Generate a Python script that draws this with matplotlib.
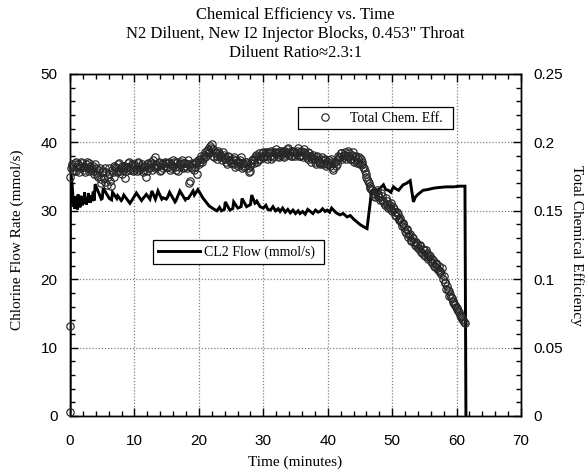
import numpy as np
import matplotlib
matplotlib.use("Agg")
import matplotlib.pyplot as plt
from matplotlib.ticker import MultipleLocator, FixedLocator

# ---- CL2 flow (mmol/s) vs time (min) ----
flow_t = [
    0.00, 0.06, 0.20, 0.35, 0.55, 0.65, 0.75, 0.85, 0.95, 1.05, 1.15, 1.25, 1.35,
    1.45, 1.55, 1.65, 1.75, 1.85, 1.95, 2.05, 2.15, 2.25, 2.35, 2.45, 2.55, 2.65,
    2.75, 2.85, 2.95, 3.05, 3.15, 3.30, 3.45, 3.60, 3.75, 3.90, 4.85, 5.00, 5.15,
    6.10, 6.45, 6.60, 7.25, 7.40, 7.95, 8.10, 8.35, 9.30, 9.45, 10.30, 11.10,
    11.25, 11.85, 12.40, 12.70, 13.25, 13.65, 14.25, 14.45, 14.95, 15.10, 15.45,
    16.30, 16.45, 17.05, 17.90, 18.05, 18.35, 19.10, 19.30, 19.85, 20.60, 21.60,
    22.40, 22.80, 23.20, 23.50, 23.95, 24.10, 24.80, 25.25, 25.40, 26.05, 26.55,
    26.70, 27.40, 28.00, 28.20, 28.70, 28.85, 29.00, 29.50, 30.00, 30.40, 30.70,
    31.10, 31.50, 31.90, 32.30, 32.60, 33.00, 33.40, 33.80, 34.20, 34.60, 35.00,
    35.40, 35.70, 36.10, 36.50, 36.90, 37.30, 37.70, 38.10, 38.50, 38.80, 39.20,
    39.60, 39.90, 40.30, 40.60, 40.90, 41.30, 41.90, 42.40, 43.00, 43.50, 44.00,
    44.50, 45.00, 45.50, 46.10, 46.50, 46.80, 47.20, 47.60, 48.00, 48.65, 49.00,
    49.40, 49.80, 50.20, 50.60, 51.00, 51.70, 52.20, 52.80, 53.30, 53.60, 54.00,
    54.40, 54.80, 55.50, 56.40, 57.20, 58.40, 59.50, 60.50, 61.30, 61.45,
]
flow_v = [
    0.0, 35.4, 35.0, 33.5, 30.6, 31.9, 30.3, 32.1, 30.5, 31.7, 30.2, 32.4, 30.8,
    31.6, 30.5, 32.2, 30.9, 31.9, 30.8, 32.1, 31.0, 32.7, 31.2, 31.9, 30.9, 31.8,
    31.2, 32.6, 31.3, 31.9, 31.2, 32.3, 31.4, 32.8, 31.5, 33.9, 31.7, 31.8, 33.3,
    31.8, 31.6, 32.7, 31.8, 32.2, 31.5, 31.7, 32.3, 31.1, 31.3, 32.6, 31.5,
    31.7, 32.4, 31.7, 32.9, 31.7, 32.9, 31.7, 31.9, 31.7, 31.9, 32.7,
    31.3, 31.5, 32.9, 31.6, 31.8, 31.8, 32.9, 32.3, 33.1, 31.9, 30.7,
    30.2, 30.0, 30.5, 30.0, 30.2, 31.3, 30.1, 30.3, 31.3, 30.4, 30.6,
    31.8, 30.6, 30.9, 32.3, 31.1, 31.2, 31.4, 30.6, 30.4, 30.8, 30.2,
    30.1, 30.6, 30.0, 30.3, 29.9, 30.4, 29.8, 30.2, 29.7, 30.1, 29.6,
    30.0, 29.6, 29.9, 29.5, 30.2, 29.9, 29.6, 30.1, 29.8, 29.9, 30.3,
    29.9, 30.1, 29.8, 30.4, 30.1, 29.7, 29.4, 29.6, 29.1, 29.3, 28.8,
    28.4, 28.0, 27.7, 27.4, 30.5, 32.8, 33.3, 32.8, 33.2, 33.8, 33.1,
    33.0, 32.7, 33.5, 33.2, 33.0, 33.8, 34.0, 34.4, 31.3, 32.0, 32.4,
    32.7, 33.0, 33.1, 33.3, 33.4, 33.5, 33.5, 33.6, 33.6, 0.0,
]

# ---- total chemical efficiency (per mille) ----
eff_start_t = [0.0, 0.0, 0.0]
eff_start = [3, 66, 175]
# samples on the quarter minute
eff_t_a = np.round(np.arange(0.25, 61.26, 0.25), 3)
eff_pm_a = [
    183, 180, 185, 179, 184, 181, 186, 182, 178, 184, 181, 185, 180, 183, 177, 181, 176, 180, 170, 178,
    174, 181, 169, 177, 172, 180, 175, 182, 178, 184, 179, 183, 180, 174, 182, 185, 180, 183, 179, 184,
    181, 185, 180, 183, 178, 182, 175, 184, 181, 186, 180, 183, 189, 182, 185, 179, 184, 181, 186, 182,
    185, 180, 184, 187, 182, 185, 179, 184, 186, 181, 185, 183, 187, 170, 182, 185, 180, 186, 177, 184,
    188, 186, 191, 189, 194, 192, 197, 199, 195, 192, 190, 194, 191, 189, 193, 188, 186, 190, 187, 185,
    188, 184, 187, 183, 186, 189, 185, 182, 186, 184, 178, 183, 187, 185, 189, 186, 190, 188, 192, 189,
    191, 188, 193, 190, 194, 189, 192, 195, 190, 193, 191, 194, 189, 192, 195, 191, 194, 190, 193, 192,
    194, 190, 193, 191, 195, 192, 189, 193, 190, 188, 191, 186, 189, 187, 185, 188, 184, 187, 183, 186,
    184, 188, 181, 185, 183, 187, 189, 192, 188, 191, 193, 190, 192, 188, 191, 187, 189, 185, 188, 184,
    186, 182, 179, 175, 172, 168, 166, 163, 161, 164, 162, 160, 163, 158, 156, 159, 155, 153, 156, 150,
    151, 147, 149, 143, 145, 139, 141, 135, 137, 131, 133, 128, 130, 125, 127, 123, 125, 120, 122, 118,
    121, 116, 118, 113, 115, 110, 112, 108, 110, 106, 108, 102, 98, 95, 91, 89, 86, 84, 81, 79,
    77, 74, 72, 70, 68,
]
# samples in between
eff_t_b = np.round(np.arange(0.125, 61.13, 0.25), 3)
eff_pm_b = [
    181, 184, 179, 186, 182, 178, 183, 185, 180, 182, 186, 179, 183, 181, 179, 184, 178, 175, 181, 173,
    179, 171, 178, 175, 181, 168, 178, 183, 181, 179, 185, 181, 177, 183, 179, 182, 186, 181, 184, 180,
    183, 179, 186, 181, 184, 180, 183, 179, 185, 182, 184, 187, 181, 184, 183, 186, 180, 185, 183, 185,
    182, 186, 181, 183, 186, 180, 186, 182, 184, 187, 182, 185, 181, 184, 172, 181, 184, 182, 185, 187,
    186, 190, 188, 193, 190, 195, 193, 196, 190, 189, 193, 188, 192, 190, 187, 191, 189, 184, 189, 187,
    185, 189, 182, 186, 184, 187, 181, 185, 183, 186, 181, 179, 185, 188, 187, 191, 187, 192, 190, 193,
    189, 193, 190, 192, 188, 193, 190, 193, 192, 189, 194, 192, 190, 194, 192, 196, 192, 190, 194, 190,
    192, 196, 190, 194, 189, 193, 191, 188, 192, 186, 189, 188, 184, 190, 186, 184, 189, 185, 188, 184,
    187, 183, 186, 180, 186, 184, 190, 189, 192, 189, 191, 188, 194, 190, 188, 193, 186, 190, 186, 189,
    188, 184, 181, 177, 173, 170, 167, 165, 162, 160, 165, 161, 158, 161, 157, 154, 157, 152, 154, 151,
    153, 149, 146, 148, 144, 142, 140, 138, 134, 136, 132, 129, 131, 127, 124, 126, 122, 124, 119, 121,
    117, 119, 115, 117, 112, 114, 109, 111, 107, 105, 104, 100, 97, 93, 92, 88, 87, 83, 82, 80,
    78, 76, 73, 71, 69,
]

x_ticks = [0, 10, 20, 30, 40, 50, 60, 70]
left_ticks = [0, 10, 20, 30, 40, 50]
right_ticks = [0, 0.05, 0.1, 0.15, 0.2, 0.25]
right_labels = ["0", "0.05", "0.1", "0.15", "0.2", "0.25"]

serif = ["Liberation Serif", "DejaVu Serif"]
sans = ["Liberation Sans", "DejaVu Sans"]

fig = plt.figure(figsize=(5.86, 4.74), dpi=100)
ax = fig.add_axes([0.1195, 0.1224, 0.7696, 0.7215])
ax2 = ax.twinx()

# flow line
ax.plot(flow_t, flow_v, color="black", linewidth=2.1, solid_joinstyle="miter",
        label="CL2 Flow (mmol/s)", zorder=3)

# efficiency points
eff_all_t = np.concatenate([eff_start_t, eff_t_a, eff_t_b])
eff_all = np.concatenate([eff_start, eff_pm_a, eff_pm_b]) / 1000.0
ax2.plot(eff_all_t, eff_all, "o", mfc="none", mec="#262626", ms=5.3, mew=0.85,
         clip_on=False, label="Total Chem. Eff.", zorder=4)

ax.set_xlim(0, 70)
ax.set_ylim(0, 50)
ax2.set_ylim(0, 0.25)

ax.xaxis.set_major_locator(FixedLocator(x_ticks))
ax.xaxis.set_minor_locator(MultipleLocator(2))
ax.yaxis.set_major_locator(FixedLocator(left_ticks))
ax.yaxis.set_minor_locator(MultipleLocator(2))
ax2.yaxis.set_major_locator(FixedLocator(right_ticks))
ax2.yaxis.set_minor_locator(MultipleLocator(0.01))
ax2.set_yticklabels(right_labels)

ax.grid(True, which="major", linestyle=(0, (1, 1.5)), color="#808080", linewidth=0.9)

ax.tick_params(which="both", direction="in", top=True, right=False, colors="black")
ax.tick_params(which="major", length=6, width=1)
ax.tick_params(which="minor", length=3.5, width=1)
ax.tick_params(axis="x", pad=13)
ax.tick_params(axis="y", pad=9)
ax2.tick_params(which="both", direction="in")
ax2.tick_params(which="major", length=6, width=1, pad=9)
ax2.tick_params(which="minor", length=3.5, width=1)

for a in (ax, ax2):
    for lab in a.get_xticklabels() + a.get_yticklabels():
        lab.set_family(sans)
        lab.set_fontsize(11)
    for sp in a.spines.values():
        sp.set_linewidth(1.0)

# titles and labels
ax.set_title("Chemical Efficiency vs. Time\n"
             "N2 Diluent, New I2 Injector Blocks, 0.453\" Throat\n"
             "Diluent Ratio\u22482.3:1",
             family=serif, fontsize=12, linespacing=1.27, pad=12)
fig.text(0.504, 0.025, "Time (minutes)", family=serif, fontsize=11,
         ha="center", va="center")
fig.text(0.029, 0.495, "Chlorine Flow Rate (mmol/s)", family=serif, fontsize=11,
         rotation=90, ha="center", va="center")
fig.text(0.985, 0.483, "Total Chemical Efficiency", family=serif, fontsize=11,
         rotation=270, ha="center", va="center")

# legends
leg2 = ax2.legend(loc="center", bbox_to_anchor=(0.506, 0.836, 0.343, 0.07),
                  mode="expand", borderaxespad=0, borderpad=0.35, numpoints=1,
                  handlelength=3.2, handletextpad=0.2,
                  fancybox=False, framealpha=1, edgecolor="black",
                  prop={"family": serif, "size": 10})
leg2.get_frame().set_linewidth(0.9)

leg1 = ax.legend(loc="center", bbox_to_anchor=(0.184, 0.444, 0.379, 0.071),
                 mode="expand", borderaxespad=0, borderpad=0.35,
                 handlelength=3.0, handletextpad=0.35,
                 fancybox=False, framealpha=1, edgecolor="black",
                 prop={"family": serif, "size": 10})
leg1.get_frame().set_linewidth(0.9)

fig.savefig("out.png", dpi=100)
